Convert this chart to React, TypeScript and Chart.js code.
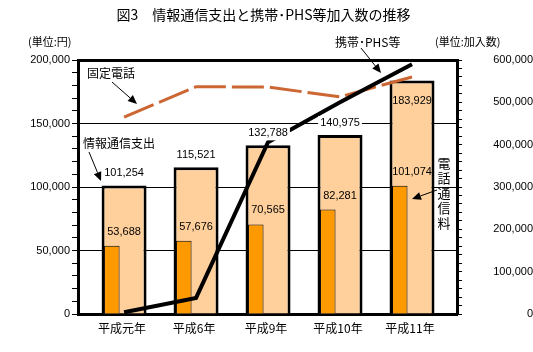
import React, { useEffect, useRef } from 'react';
import { Chart, registerables } from 'chart.js';

Chart.register(...registerables);

const categories = ['平成元年', '平成6年', '平成9年', '平成10年', '平成11年'];
const totalSpending = [101254, 115521, 132788, 140975, 183929];
const telecomFee = [53688, 57676, 70565, 82281, 101074];
const mobilePhs = [4000, 38000, 406000, 500000, 590000];
const fixedPhone = [465000, 537000, 536000, 513000, 560000];

const TITLE = '図3　情報通信支出と携帯･PHS等加入数の推移';
const NUM_FONT = '"Liberation Sans", Arial, sans-serif';
const JP_FONT = '"Noto Sans CJK JP", "Liberation Sans", sans-serif';

const fmt = (v: number) => v.toLocaleString('en-US');

function arrow(ctx: CanvasRenderingContext2D, x1: number, y1: number, x2: number, y2: number) {
  const ang = Math.atan2(y2 - y1, x2 - x1);
  const len = 9;
  const hw = 4;
  const bx = x2 - len * Math.cos(ang);
  const by = y2 - len * Math.sin(ang);
  ctx.save();
  ctx.strokeStyle = '#000';
  ctx.fillStyle = '#000';
  ctx.lineWidth = 1;
  ctx.beginPath();
  ctx.moveTo(x1, y1);
  ctx.lineTo(bx, by);
  ctx.stroke();
  ctx.beginPath();
  ctx.moveTo(x2, y2);
  ctx.lineTo(bx + hw * Math.sin(ang), by - hw * Math.cos(ang));
  ctx.lineTo(bx - hw * Math.sin(ang), by + hw * Math.cos(ang));
  ctx.closePath();
  ctx.fill();
  ctx.restore();
}

const annotations = {
  id: 'annotations',
  afterDatasetsDraw(chart: any) {
    const ctx: CanvasRenderingContext2D = chart.ctx;
    const ca = chart.chartArea;
    const innerMeta = chart.getDatasetMeta(2);
    const bigMeta = chart.getDatasetMeta(3);
    ctx.save();
    ctx.textAlign = 'center';
    ctx.textBaseline = 'middle';
    ctx.font = `11px ${NUM_FONT}`;
    bigMeta.data.forEach((el: any, i: number) => {
      const inside = el.y - ca.top < 30;
      const ty = inside ? el.y + 21 : el.y - 12;
      const text = fmt(totalSpending[i]);
      if (!inside) {
        const w = ctx.measureText(text).width;
        ctx.fillStyle = '#fff';
        ctx.fillRect(el.x - w / 2 - 2, ty - 7, w + 4, 14);
      }
      ctx.fillStyle = '#000';
      ctx.fillText(text, el.x, ty);
    });
    innerMeta.data.forEach((el: any, i: number) => {
      const x = bigMeta.data[i].x;
      ctx.fillStyle = '#000';
      ctx.fillText(fmt(telecomFee[i]), x, el.y - 14);
    });

    // title
    ctx.font = `14px ${JP_FONT}`;
    ctx.fillText(TITLE, chart.width / 2 - 3, 15);

    ctx.textAlign = 'left';
    ctx.font = `11px ${JP_FONT}`;
    ctx.fillText('(単位:円)', 28, 42);
    ctx.fillText('(単位:加入数)', 435, 42);

    ctx.font = `12px ${JP_FONT}`;
    ctx.fillText('携帯･PHS等', 335, 42);
    arrow(ctx, 361, 48, 381, 73);

    ctx.fillText('固定電話', 87, 73);
    arrow(ctx, 112, 82, 137, 104);

    ctx.fillText('情報通信支出', 83, 143);
    arrow(ctx, 89, 152, 101, 181);

    ctx.textAlign = 'center';
    ctx.font = `13px ${JP_FONT}`;
    '電話通信料'.split('').forEach((ch, i) => {
      ctx.fillText(ch, 444, 163 + i * 15);
    });
    arrow(ctx, 437, 190, 412, 199);
    ctx.restore();
  },
};

export default function App() {
  const ref = useRef<HTMLCanvasElement>(null);
  useEffect(() => {
    const chart = new Chart(ref.current as HTMLCanvasElement, {
      type: 'bar',
      data: {
        datasets: [
          {
            type: 'line',
            label: '携帯･PHS等',
            data: mobilePhs.map((v, i) => ({ x: i, y: v })),
            yAxisID: 'y1',
            borderColor: '#000',
            borderWidth: 4,
            pointRadius: 0,
            fill: false,
            tension: 0,
            order: 0,
          },
          {
            type: 'line',
            label: '固定電話',
            data: fixedPhone.map((v, i) => ({ x: i, y: v })),
            yAxisID: 'y1',
            borderColor: '#CC6633',
            borderWidth: 3,
            borderDash: [32, 6],
            pointRadius: 0,
            fill: false,
            tension: 0,
            order: 1,
          },
          {
            type: 'bar',
            label: '電話通信料',
            data: telecomFee.map((v, i) => ({ x: i, y: v })),
            yAxisID: 'y',
            backgroundColor: '#FF9900',
            borderColor: '#000',
            borderWidth: 1,
            categoryPercentage: 0.68,
            barPercentage: 0.633,
            order: 2,
          },
          {
            type: 'bar',
            label: '情報通信支出',
            data: totalSpending.map((v, i) => ({ x: i, y: v })),
            yAxisID: 'y',
            backgroundColor: '#FFD09C',
            borderColor: '#000',
            borderWidth: 3,
            grouped: false,
            categoryPercentage: 1,
            barPercentage: 0.625,
            order: 3,
          },
          {
            type: 'bar',
            label: '',
            data: [],
            yAxisID: 'y',
            backgroundColor: 'rgba(0,0,0,0)',
            categoryPercentage: 0.68,
            barPercentage: 0.633,
            order: 4,
          },
        ] as any,
      },
      options: {
        responsive: false,
        animation: false,
        layout: { padding: { top: 60, left: 0, right: 0, bottom: 0 } },
        plugins: {
          legend: { display: false },
          title: { display: false },
          tooltip: { enabled: false },
        },
        scales: {
          x: {
            type: 'linear',
            offset: false,
            min: -0.64,
            max: 4.625,
            afterBuildTicks: (s: any) => {
              s.ticks = categories.map((_, i) => ({ value: i }));
            },
            afterFit: (s: any) => {
              s.height = 38;
            },
            grid: { display: false, drawTicks: false, offset: false },
            border: { display: true, color: '#000', width: 3 },
            ticks: {
              autoSkip: false,
              maxRotation: 0,
              padding: 7,
              labelOffset: -2,
              color: '#000',
              font: { size: 12, family: JP_FONT },
              callback: (_v: any, idx: number) => categories[idx] ?? '',
            },
          },
          y: {
            type: 'linear',
            position: 'left',
            min: 0,
            max: 200000,
            afterFit: (s: any) => {
              s.width = 78;
            },
            ticks: {
              stepSize: 10000,
              autoSkip: false,
              padding: 2,
              color: '#000',
              font: { size: 11, family: NUM_FONT },
              callback: (v: any) => (Number(v) % 50000 === 0 ? fmt(Number(v)) : ''),
            },
            grid: {
              color: (c: any) => (c.tick && c.tick.value % 50000 === 0 ? '#000' : 'rgba(0,0,0,0)'),
              tickColor: '#000',
              lineWidth: (c: any) => (c.tick && c.tick.value === 200000 ? 3 : 1),
              tickWidth: 1,
              tickLength: 6,
            },
            border: { display: true, color: '#000', width: 3 },
          },
          y1: {
            type: 'linear',
            position: 'right',
            min: 0,
            max: 600000,
            afterFit: (s: any) => {
              s.width = 76;
            },
            ticks: {
              stepSize: 20000,
              autoSkip: false,
              padding: 2,
              crossAlign: 'far',
              color: '#000',
              font: { size: 11, family: NUM_FONT },
              callback: (v: any) => (Number(v) % 100000 === 0 ? fmt(Number(v)) : ''),
            },
            grid: {
              drawOnChartArea: false,
              color: '#000',
              tickColor: '#000',
              tickWidth: 1,
              tickLength: 5,
            },
            border: { display: true, color: '#000', width: 3 },
          },
        } as any,
      },
      plugins: [annotations],
    });
    return () => chart.destroy();
  }, []);
  return (
    <div style={{ position: 'fixed', left: 0, top: 0, width: 533, height: 352, background: '#fff' }}>
      <canvas ref={ref} width={533} height={352} />
    </div>
  );
}
